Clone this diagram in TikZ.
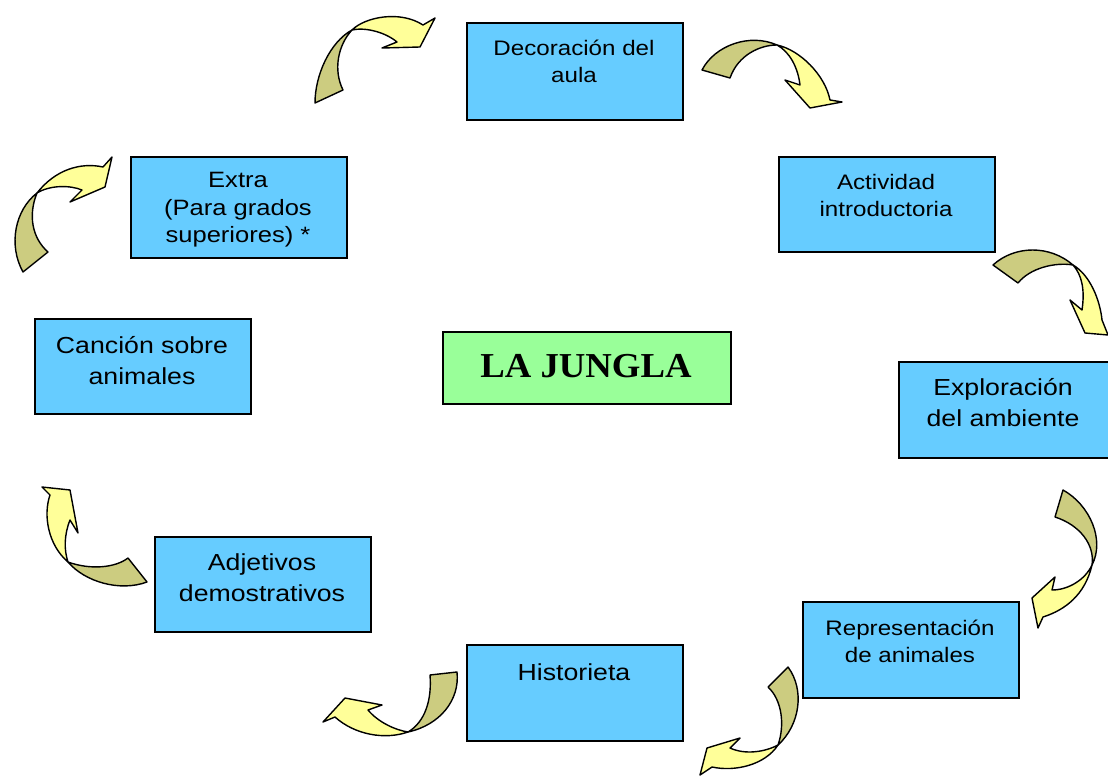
\documentclass[tikz,border=0pt]{standalone}
\usepackage{fontspec}
\setmainfont{Liberation Sans}[FakeStretch=1.15]
\newfontfamily\jfont{Liberation Serif}[FakeStretch=1.05]
\definecolor{boxblue}{HTML}{66CCFF}
\definecolor{jgreen}{HTML}{99FF99}
\definecolor{arrolive}{HTML}{CCCC80}
\definecolor{arryellow}{HTML}{FFFF99}
\begin{document}
\begin{tikzpicture}[x=1pt,y=-1pt,
  box/.style={draw=black, line width=2pt, fill=boxblue, anchor=north west, inner sep=0pt, minimum width=216pt},
  bigtxt/.style={align=center, font=\fontsize{23.2}{31}\selectfont, inner sep=0pt},
  smalltxt/.style={align=center, font=\fontsize{21}{27}\selectfont, inner sep=0pt},
  olv/.style={fill=arrolive, draw=black, line width=1.4pt, line join=round},
  ylw/.style={fill=arryellow, draw=black, line width=1.4pt, line join=round}]
\clip (0,0) rectangle (1108,776);
\useasboundingbox (0,0) rectangle (1108,776);
\fill[white] (0,0) rectangle (1108,776);

% boxes
\node[box, minimum height=97pt] (deco) at (466,22) {};
\node[box, minimum height=95pt] (acti) at (778,156) {};
\node[box, minimum height=96pt, minimum width=220pt] (expl) at (898,361) {};
\node[box, minimum height=96pt] (repr) at (802,601) {};
\node[box, minimum height=96pt] (hist) at (466,644) {};
\node[box, minimum height=95pt] (adje) at (154,536) {};
\node[box, minimum height=95pt] (canc) at (34,318) {};
\node[box, minimum height=101pt] (extr) at (130,156) {};
\node[draw=black, line width=2pt, fill=jgreen, anchor=north west, minimum width=288pt, minimum height=72pt, inner sep=0pt] (jung) at (442,331) {};

% texts
\node[align=center, font=\fontsize{21}{27}\selectfont, inner sep=0pt] (decot) at (574,61) {Decoración del\\aula};
\node[smalltxt] (actit) at (886,195) {Actividad\\introductoria};
\node[bigtxt] (explt) at (1003,403) {Exploración\\del ambiente};
\node[smalltxt] (reprt) at (910,641) {Representación\\de animales};
\node[bigtxt] (histt) at (574,672) {Historieta};
\node[bigtxt] (adjet) at (262,578) {Adjetivos\\demostrativos};
\node[bigtxt] (canct) at (142,361) {Canción sobre\\animales};
\node[align=center, font=\fontsize{22.2}{27.5}\selectfont, inner sep=0pt] (extrt) at (238,210) {Extra\\(Para grados\\superiores) *};
\node[inner sep=0pt, font=\jfont\bfseries\fontsize{35}{40}\selectfont] (jungt) at (586,366) {LA JUNGLA};

% arrow A (top left)
\draw[olv] (315,103) .. controls (315,75) and (330,42) .. (352,30)
  .. controls (338,45) and (333,70) .. (343,90) -- cycle;
\draw[ylw] (352,30) .. controls (365,17) and (400,10) .. (423,25)
  -- (435,18) -- (420,47) -- (382,48) -- (397,42)
  .. controls (385,32) and (365,27) .. (352,30) -- cycle;

% arrow B (top right)
\draw[olv] (702,70) .. controls (715,45) and (750,33) .. (777,45)
  .. controls (760,45) and (738,55) .. (730,78) -- cycle;
\draw[ylw] (777,45) .. controls (800,50) and (825,75) .. (830,100)
  -- (842,102) -- (810,108) -- (785,80) -- (800,85)
  .. controls (798,68) and (790,52) .. (777,45) -- cycle;

% arrow C (right)
\draw[olv] (993,265) .. controls (1015,245) and (1050,245) .. (1073,265)
  .. controls (1055,262) and (1030,268) .. (1018,283) -- cycle;
\draw[ylw] (1073,265) .. controls (1090,275) and (1100,300) .. (1102,320)
  -- (1108,335) -- (1085,333) -- (1070,300) -- (1082,310)
  .. controls (1085,290) and (1082,275) .. (1073,265) -- cycle;

% arrow D (right lower)
\draw[olv] (1063,490) .. controls (1090,505) and (1105,540) .. (1092,565)
  .. controls (1095,545) and (1080,525) .. (1055,517) -- cycle;
\draw[ylw] (1092,565) .. controls (1085,595) and (1065,610) .. (1043,617)
  -- (1038,628) -- (1032,598) -- (1055,577) -- (1052,590)
  .. controls (1068,590) and (1085,580) .. (1092,565) -- cycle;

% arrow E (bottom right)
\draw[olv] (788,667) .. controls (805,690) and (800,725) .. (778,745)
  .. controls (785,725) and (782,700) .. (768,687) -- cycle;
\draw[ylw] (778,745) .. controls (765,765) and (735,772) .. (712,767)
  -- (700,775) -- (707,748) -- (740,738) -- (730,748)
  .. controls (745,755) and (765,752) .. (778,745) -- cycle;

% arrow F (bottom middle)
\draw[olv] (457,672) .. controls (460,700) and (440,725) .. (408,732)
  .. controls (425,722) and (432,700) .. (430,675) -- cycle;
\draw[ylw] (408,732) .. controls (385,740) and (355,735) .. (335,717)
  -- (323,722) -- (345,698) -- (382,705) -- (368,710)
  .. controls (378,722) and (395,730) .. (408,732) -- cycle;

% arrow G (left lower)
\draw[olv] (147,582) .. controls (120,592) and (85,582) .. (68,562)
  .. controls (90,570) and (115,568) .. (128,558) -- cycle;
\draw[ylw] (68,562) .. controls (48,545) and (43,515) .. (50,495)
  -- (42,487) -- (70,490) -- (78,533) -- (70,520)
  .. controls (64,535) and (64,550) .. (68,562) -- cycle;

% arrow H (left top)
\draw[olv] (23,272) .. controls (8,245) and (15,210) .. (37,193)
  .. controls (28,215) and (32,238) .. (48,252) -- cycle;
\draw[ylw] (37,193) .. controls (55,170) and (80,162) .. (103,167)
  -- (112,157) -- (105,187) -- (70,202) -- (82,190)
  .. controls (70,185) and (50,185) .. (37,193) -- cycle;
\end{tikzpicture}
\end{document}
